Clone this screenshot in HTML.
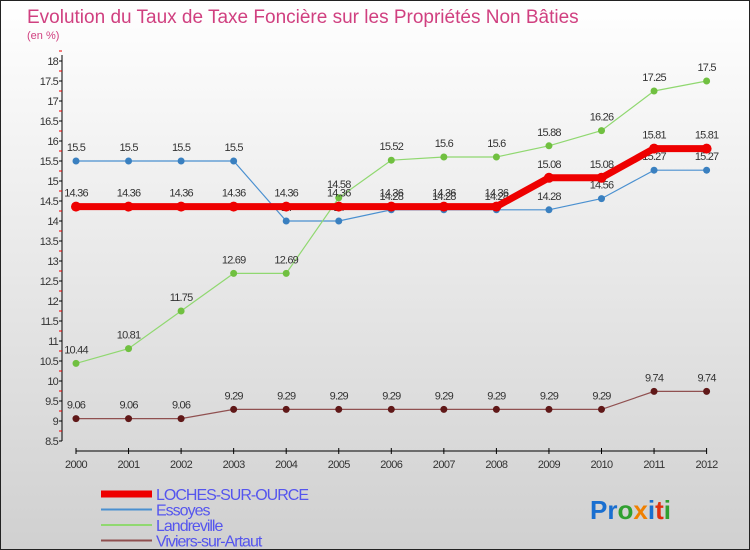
<!DOCTYPE html>
<html><head><meta charset="utf-8"><style>
body{margin:0;width:750px;height:550px;overflow:hidden}
#wrap{position:relative;width:748px;height:548px;border:1px solid #222;background:linear-gradient(#fff,#d0d0d0);font-family:"Liberation Sans",sans-serif}
</style></head><body>
<div id="wrap">
<svg id="chart" width="748" height="548" style="position:absolute;left:0;top:0">
<text x="26" y="22" font-size="19" fill="#d04080">Evolution du Taux de Taxe Foncière sur les Propriétés Non Bâties</text>
<text x="26" y="38" font-size="11" fill="#d04080">(en %)</text>
<g id="axes"></g><g id="series"></g>
<text x="589" y="518" font-size="26" font-weight="bold"><tspan fill="#1a6fd0">Pr</tspan><tspan fill="#30a030">o</tspan><tspan fill="#f08000">x</tspan><tspan fill="#1a6fd0">i</tspan><tspan fill="#e03010">t</tspan><tspan fill="#30a030">i</tspan></text>
</svg>
</div>
<script>
const years=[2000,2001,2002,2003,2004,2005,2006,2007,2008,2009,2010,2011,2012];
const loches=[14.36,14.36,14.36,14.36,14.36,14.36,14.36,14.36,14.36,15.08,15.08,15.81,15.81];
const essoyes=[15.5,15.5,15.5,15.5,14,14,14.28,14.28,14.28,14.28,14.56,15.27,15.27];
const landreville=[10.44,10.81,11.75,12.69,12.69,14.58,15.52,15.6,15.6,15.88,16.26,17.25,17.5];
const viviers=[9.06,9.06,9.06,9.29,9.29,9.29,9.29,9.29,9.29,9.29,9.29,9.74,9.74];
const yTicks=[8.5,9,9.5,10,10.5,11,11.5,12,12.5,13,13.5,14,14.5,15,15.5,16,16.5,17,17.5,18];
const names=["LOCHES-SUR-OURCE","Essoyes","Landreville","Viviers-sur-Artaut"];
const NS="http://www.w3.org/2000/svg";
const xs=i=>75+i*52.55;
const ys=v=>420-(v-9)*40;
function mk(p,t,a){const e=document.createElementNS(NS,t);for(const k in a)e.setAttribute(k,a[k]);p.appendChild(e);return e;}
const ax=document.getElementById('axes');
let l=mk(ax,'line',{x1:61,y1:ys(18)-6,x2:61,y2:ys(8.5),stroke:'#000'});


yTicks.forEach(v=>{
 let t=mk(ax,'line',{x1:58,x2:61,y1:ys(v),y2:ys(v),stroke:'#000'});
 
 
 let m=mk(ax,'line',{x1:58,x2:61,y1:ys(v+0.25),y2:ys(v+0.25),stroke:'#e00'});
 
 
 let tx=mk(ax,'text',{x:57,y:ys(v)+4,'text-anchor':'end','font-size':11,fill:'#333','letter-spacing':'-0.8'});
 tx.textContent=String(v);
 
 
});
let xl=mk(ax,'line',{x1:xs(0),x2:xs(12),y1:450,y2:450,stroke:'#000'});


years.forEach((y,i)=>{
 let t=mk(ax,'line',{x1:xs(i),x2:xs(i),y1:447,y2:453,stroke:'#000'});
 
 
 let tx=mk(ax,'text',{x:xs(i),y:467,'text-anchor':'middle','font-size':11,fill:'#333','letter-spacing':'-0.6'});
 tx.textContent=y;
 
 
});
const sg=document.getElementById('series');
const defs=[[essoyes,'#4a90d0','#3a80c0',1.2,5,'essoyes'],[landreville,'#90d870','#70c040',1.2,5,'landreville'],[viviers,'#905050','#601818',1.2,5,'viviers-sur-artaut'],[loches,'#ee0000','#ee0000',7,6,'loches-sur-ource']];
defs.forEach(([d,c,dc,w,r,n])=>{
 let p=mk(sg,'polyline',{points:d.map((v,i)=>xs(i)+','+ys(v)).join(' '),fill:'none',stroke:c,'stroke-width':w});
 
 
 d.forEach((v,i)=>{
  let c2=mk(sg,'circle',{cx:xs(i),cy:ys(v),r:w>3?5:3.5,fill:dc});
  
  
  let t=mk(sg,'text',{x:xs(i),y:ys(v)-10,'text-anchor':'middle','font-size':11,fill:'#333','letter-spacing':'-0.8'});
  t.textContent=String(v);
  
  
 });
});
const lc=['#ee0000','#4a90d0','#90d870','#905050'],lw=[7,2,2,2];
names.forEach((n,i)=>{
 const y=493+i*15.5;
 let s=mk(sg,'line',{x1:100,x2:151,y1:y,y2:y,stroke:lc[i],'stroke-width':lw[i]});
 
 
 let t=mk(sg,'text',{x:155,y:y+6,'font-size':16,fill:'#5555ee','letter-spacing':'-1'});
 t.textContent=n;
 
 
});
</script>
</body></html>
